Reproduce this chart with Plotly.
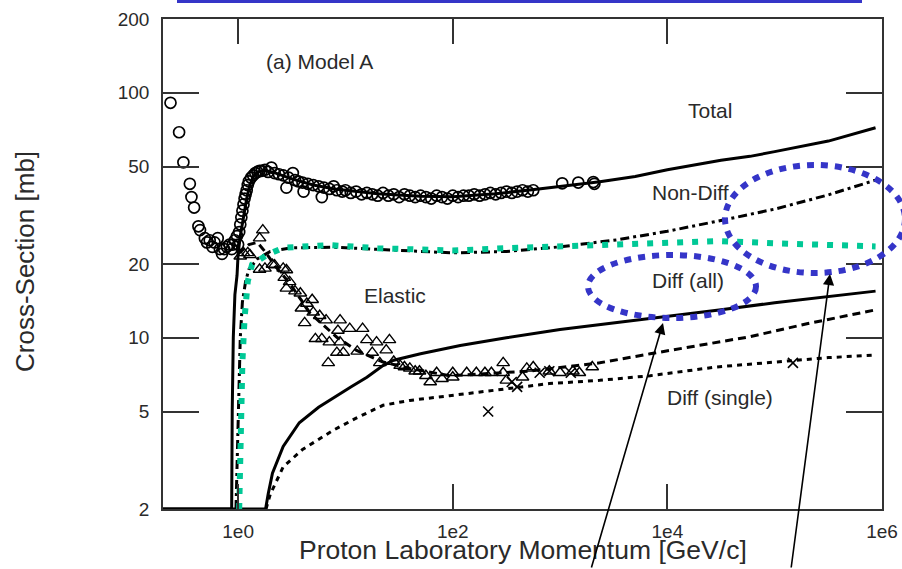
import numpy as np
import plotly.graph_objects as go

# ---------------- data (x stored as log10 of momentum in GeV/c) ----------------
total_logp = [-0.70, -0.06, -0.055, -0.045, -0.03, -0.01, 0.0, 0.02, 0.05, 0.08, 0.11, 0.14, 0.18,
              0.25, 0.35, 0.5, 0.7, 0.9, 1.3, 1.7, 2.0, 2.4, 2.8, 3.0, 3.37, 3.7, 4.0, 4.5, 4.77,
              5.0, 5.5, 5.94]
total_mb = [2, 2, 5, 10, 15, 18, 22, 26, 31, 37, 42, 45.5, 47.5,
            48.2, 47, 44.5, 42, 40.5, 38.7, 37.8, 37.6, 38.7, 40.5, 41.5, 43.3, 45.5, 48.5, 53, 55,
            57.5, 63.5, 72]

nondiff_logp = [-0.02, 0.0, 0.02, 0.04, 0.07, 0.1, 0.18, 0.3, 0.5, 0.9, 1.4, 2.0, 2.5, 3.0, 3.53,
                4.0, 4.53, 5.0, 5.5, 5.94]
nondiff_mb = [2, 5, 10, 14, 17, 19, 21, 22.5, 23.3, 23.4, 22.8, 22.2, 22.5, 23.5, 25.1,
              27.2, 30.3, 33.5, 38.3, 44]

green_logp = [0.01, 0.02, 0.04, 0.06, 0.09, 0.13, 0.2, 0.27, 0.42, 0.85, 1.3, 2.0, 2.5, 3.0, 3.5,
              4.0, 4.5, 5.0, 5.5, 5.94]
green_mb = [2, 4, 8, 12, 17, 19.9, 21, 21.8, 23.3, 23.9, 23.2, 22.7, 23.2, 23.6, 23.9,
            24.6, 24.8, 24.3, 23.8, 23.6]

elastic_logp = [0.0, 0.1, 0.18, 0.25, 0.35, 0.48, 0.6, 0.67, 0.8, 0.92, 1.1, 1.35, 1.6, 1.97, 2.7,
                3.37, 3.84, 4.3, 4.77, 5.3, 5.94]
elastic_mb = [22, 24, 24.5, 22.5, 19.5, 16.7, 14, 12.6, 11.2, 10.05, 8.9, 7.96, 7.5, 7.0, 7.3,
              7.9, 8.6, 9.3, 10.1, 11.4, 13.0]

diffall_logp = [-0.70, 0.256, 0.28, 0.32, 0.42, 0.57, 0.75, 0.89, 1.05, 1.2, 1.35, 1.45, 1.7, 2.07,
                2.5, 3.0, 3.5, 3.96, 4.5, 5.0, 5.5, 5.94]
diffall_mb = [2, 2, 2.3, 2.8, 3.6, 4.5, 5.2, 5.7, 6.3, 6.9, 7.7, 8.1, 8.6, 9.3,
              10.0, 10.8, 11.5, 12.1, 13.0, 13.9, 14.7, 15.5]

diffsingle_logp = [0.26, 0.3, 0.42, 0.6, 0.89, 1.1, 1.35, 1.6, 1.97, 2.5, 2.9, 3.37, 3.84, 4.46,
                   5.08, 5.5, 5.95]
diffsingle_mb = [2, 2.3, 2.97, 3.5, 4.2, 4.7, 5.3, 5.55, 5.8, 6.2, 6.5, 6.7, 7.0, 7.6,
                 8.0, 8.3, 8.5]

circle_logp = [-0.63, -0.55, -0.51, -0.45, -0.435, -0.41, -0.37, -0.355, -0.31, -0.29, -0.265, -0.24,
               -0.22, -0.19, -0.17, -0.15, -0.13, -0.105, -0.08, -0.06, -0.05, -0.03, -0.01,
               0.0, 0.01, 0.02, 0.03, 0.04, 0.05, 0.06, 0.07, 0.08, 0.09, 0.1, 0.12, 0.14, 0.16,
               0.18, 0.2, 0.22, 0.25, 0.28, 0.31, 0.34, 0.38, 0.42, 0.45, 0.47, 0.51, 0.53, 0.56,
               0.61, 0.6, 0.65, 0.7, 0.75, 0.78, 0.8, 0.85, 0.89, 0.92, 0.97, 1.0, 1.05, 1.1,
               1.15, 1.2, 1.25, 1.3, 1.35, 1.4, 1.45, 1.5, 1.55, 1.6, 1.65, 1.7, 1.75, 1.8, 1.85,
               1.9, 1.95, 2.0, 2.05, 2.1, 2.15, 2.2, 2.25, 2.3, 2.35, 2.4, 2.45, 2.5, 2.55, 2.6,
               2.65, 2.7, 2.75, 3.02, 3.17, 3.31, 3.32]
circle_mb = [91, 69, 52, 42.5, 37.5, 34, 28.5, 27.5, 25.5, 24.5, 25, 23.5,
             24.5, 25.5, 23, 22, 23, 23.5, 24, 23, 24, 25, 26,
             24, 27, 29, 31, 33, 35, 37, 38.5, 40, 42, 43.5, 45, 46, 47,
             47.5, 48, 48, 48.5, 47.5, 49.5, 47, 46.5, 46, 41, 45, 47, 44, 43.5,
             39.5, 43, 42.5, 42, 41.5, 37.5, 41, 40.5, 41.5, 40, 39.5, 40, 39, 39.5,
             38.5, 39, 38.5, 38, 39, 38, 38.5, 37.5, 38.5, 38, 37.5, 38, 37.5, 37, 38,
             37.5, 37, 38, 37.5, 38, 38, 38.5, 38, 38.5, 39, 38.5, 39, 39.5, 39, 39.5,
             40, 39.5, 40, 42.7, 43, 43.2, 42.5]

triangle_logp = [0.02, 0.05, 0.09, 0.11, 0.2, 0.23, 0.25, 0.2, 0.32, 0.34, 0.42, 0.45, 0.43, 0.48,
                 0.45, 0.53, 0.58, 0.69, 0.59, 0.64, 0.7, 0.62, 0.76, 0.82, 0.95, 0.93, 1.04, 1.16,
                 0.72, 0.78, 0.85, 0.95, 0.84, 0.92, 0.98, 1.11, 1.2, 1.29, 1.41, 1.25, 1.38, 1.32,
                 1.45, 1.51, 1.55, 1.6, 1.65, 1.69, 1.75, 1.85, 1.79, 1.9, 2.0, 2.0, 2.13, 2.22,
                 2.3, 2.36, 2.47, 2.47, 2.5, 2.65, 2.69, 2.75, 2.9, 3.0, 3.12, 3.18, 3.3]
triangle_mb = [21.5, 22.2, 22.2, 21.8, 25.5, 27.5, 19.2, 19, 19.9, 19.8, 19.2, 18.9, 17.6, 16.9,
               15.9, 15.5, 15.2, 14.3, 13.2, 13.8, 12.7, 11.5, 12.3, 11.8, 11.8, 10.7, 10.9, 10.9,
               9.9, 9.9, 9.6, 9.6, 7.9, 8.7, 8.7, 8.8, 9.8, 9.6, 9.8, 8.7, 8.9, 7.9,
               8.0, 7.7, 7.6, 7.5, 7.3, 7.3, 7.0, 7.2, 6.6, 6.8, 6.9, 7.2, 7.2, 7.2,
               7.2, 7.2, 7.9, 7.2, 6.7, 6.9, 7.5, 7.6, 7.3, 7.2, 7.3, 7.2, 7.6]

cross_logp = [2.33, 2.55, 2.6, 2.81, 2.9, 3.1, 5.17]
cross_mb = [5.0, 6.6, 6.3, 7.2, 7.3, 7.2, 7.9]

x_tick_vals = [1, 1e2, 1e4, 1e6]
x_tick_text = ["1e0", "1e2", "1e4", "1e6"]
y_tick_vals = [2, 5, 10, 20, 50, 100, 200]
y_tick_text = ["2", "5", "10", "20", "50", "100", "200"]

curve_labels = ["(a) Model A", "Total", "Non-Diff", "Diff (all)", "Elastic", "Diff (single)"]

# ---------------- figure ----------------
def p(v):
    return np.power(10.0, np.array(v))

W, H = 902, 569
L, R, T, B = 163, 20, 19, 60
PW, PH = W - L - R, H - T - B

def px(x):
    return (x - L) / PW

def py(y):
    return (H - B - y) / PH

fig = go.Figure()

fig.add_trace(go.Scatter(x=p(circle_logp), y=circle_mb, mode="markers",
                         marker=dict(symbol="circle-open", size=11, color="black",
                                     line=dict(width=1.7, color="black"))))
fig.add_trace(go.Scatter(x=p(triangle_logp), y=triangle_mb, mode="markers",
                         marker=dict(symbol="triangle-up-open", size=11, color="black",
                                     line=dict(width=1.4, color="black"))))
fig.add_trace(go.Scatter(x=p(cross_logp), y=cross_mb, mode="markers",
                         marker=dict(symbol="x-thin-open", size=10, color="black",
                                     line=dict(width=1.6, color="black"))))

fig.add_trace(go.Scatter(x=p(total_logp), y=total_mb, mode="lines",
                         line=dict(color="black", width=3)))
fig.add_trace(go.Scatter(x=p(nondiff_logp), y=nondiff_mb, mode="lines",
                         line=dict(color="black", width=3, dash="9px,4px,3px,4px")))
fig.add_trace(go.Scatter(x=p(elastic_logp), y=elastic_mb, mode="lines",
                         line=dict(color="black", width=3, dash="8px,5px")))
fig.add_trace(go.Scatter(x=p(diffsingle_logp), y=diffsingle_mb, mode="lines",
                         line=dict(color="black", width=3, dash="5px,5px")))
fig.add_trace(go.Scatter(x=p(diffall_logp), y=diffall_mb, mode="lines",
                         line=dict(color="black", width=3)))
fig.add_trace(go.Scatter(x=p(green_logp), y=green_mb, mode="lines",
                         line=dict(color="#00C896", width=6, dash="6px,9px")))
# empty trace to activate the mirrored (top / right) tick axes
fig.add_trace(go.Scatter(x=[], y=[], xaxis="x2", yaxis="y2", mode="markers"))

txt = "#2a2a2a"
font_family = "Liberation Sans, Arial, sans-serif"

ann = []
label_pos = [(319, 61), (710, 110), (690, 192), (688, 280), (395, 295), (720, 397)]
for t, (ax_, ay_) in zip(curve_labels, label_pos):
    ann.append(dict(text=t, x=px(ax_), y=py(ay_), xref="paper", yref="paper",
                    showarrow=False, font=dict(size=21, color=txt),
                    xanchor="center", yanchor="middle"))

# axis titles
ann.append(dict(text="Proton Laboratory Momentum [GeV/c]", x=px(523), y=py(550),
                xref="paper", yref="paper", showarrow=False,
                font=dict(size=26.5, color=txt), xanchor="center", yanchor="middle"))
ann.append(dict(text="Cross-Section [mb]", x=px(25), y=py(262), textangle=-90,
                xref="paper", yref="paper", showarrow=False,
                font=dict(size=26, color=txt), xanchor="center", yanchor="middle"))

# arrows from below
for (tx, ty, ax_, ay_) in [(663, 323, -72, 257), (830, 274, -39, 306)]:
    ann.append(dict(text="", x=px(tx), y=py(ty), xref="paper", yref="paper",
                    showarrow=True, ax=ax_, ay=ay_, arrowhead=2, arrowsize=1.4,
                    arrowwidth=1.6, arrowcolor="black"))

shapes = [
    dict(type="rect", xref="paper", yref="paper", x0=px(177), x1=px(862), y0=py(3), y1=py(0),
         fillcolor="#3535C8", line=dict(width=0), layer="above"),
    dict(type="circle", xref="paper", yref="paper", x0=px(588), x1=px(756), y0=py(318), y1=py(255),
         line=dict(color="#3535C8", width=6, dash="7px,7px"), layer="above"),
    dict(type="circle", xref="paper", yref="paper", x0=px(725), x1=px(905), y0=py(273), y1=py(165),
         line=dict(color="#3535C8", width=6, dash="7px,7px"), layer="above"),
]

axis_common = dict(showgrid=False, zeroline=False, showline=True, linecolor="#333333",
                   linewidth=1.6, mirror=False, ticks="inside", tickcolor="#333333",
                   tickwidth=1.6, tickfont=dict(size=19, color=txt), automargin=False)

x_range = [-0.7, 6.0]
y_range = [np.log10(2), np.log10(200)]

fig.update_layout(
    template="none",
    width=W, height=H, autosize=False,
    margin=dict(l=L, r=R, t=T, b=B, pad=0),
    paper_bgcolor="white", plot_bgcolor="white",
    showlegend=False,
    font=dict(family=font_family, color=txt),
    xaxis=dict(type="log", range=x_range, tickvals=x_tick_vals, ticktext=x_tick_text,
               ticklen=25, ticklabelstandoff=4, **axis_common),
    yaxis=dict(type="log", range=y_range, tickvals=y_tick_vals,
               ticktext=y_tick_text, ticklen=36, ticklabelstandoff=8, **axis_common),
    xaxis2=dict(type="log", range=x_range, tickvals=x_tick_vals, overlaying="x", side="top",
                anchor="y", ticklen=25, showticklabels=False, **axis_common),
    yaxis2=dict(type="log", range=y_range, tickvals=y_tick_vals, overlaying="y", side="right",
                anchor="x", ticklen=36, showticklabels=False, **axis_common),
    annotations=ann,
    shapes=shapes,
)

fig.write_html("out.html")
